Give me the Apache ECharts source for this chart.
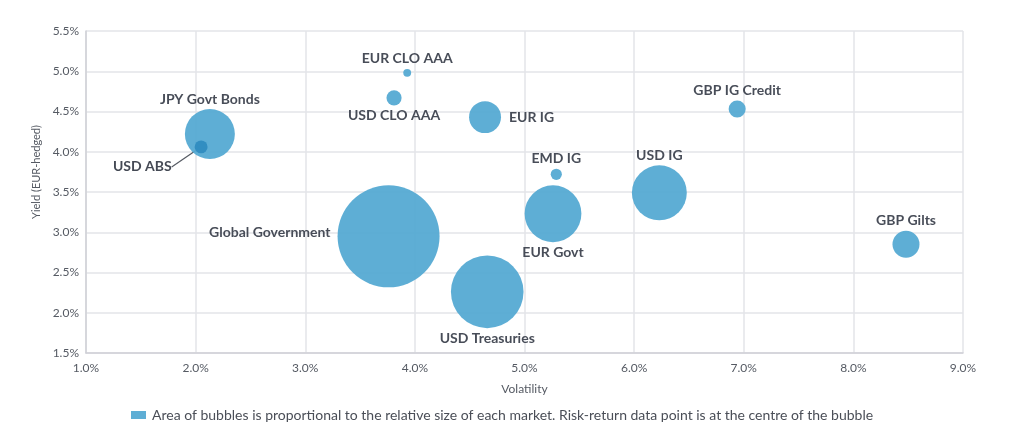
<!DOCTYPE html>
<html>
<head>
<meta charset="utf-8">
<script src="https://cdn.jsdelivr.net/npm/echarts@6/dist/echarts.min.js"></script>
<style>
html,body{margin:0;padding:0;background:#fff;}
#chart{width:1024px;height:430px;}
</style>
</head>
<body>
<div id="chart"></div>
<script>
// ---- data ----
const names = ['Global Government','USD Treasuries','EUR Govt','USD IG','JPY Govt Bonds','EUR IG','GBP Gilts','GBP IG Credit','USD CLO AAA','EMD IG','EUR CLO AAA'];
const volatility = [3.76, 4.66, 5.26, 6.23, 2.13, 4.64, 8.48, 6.94, 3.81, 5.29, 3.93];
const yields = [2.95, 2.26, 3.23, 3.49, 4.22, 4.43, 2.85, 4.53, 4.67, 3.72, 4.98];
const marketSize = [100, 50.7, 31, 29, 24, 9.8, 7, 2.8, 2.2, 1.2, 0.6];
const absName = 'USD ABS';
const absVolatility = 2.05;
const absYield = 4.06;
const absSize = 1.6;
const xTicks = [1, 2, 3, 4, 5, 6, 7, 8, 9];
const yTicks = [1.5, 2.0, 2.5, 3.0, 3.5, 4.0, 4.5, 5.0, 5.5];
const legendText = 'Area of bubbles is proportional to the relative size of each market. Risk-return data point is at the centre of the bubble';

// ---- presentation ----
const labelPosition = {
  'Global Government': 'left',
  'USD Treasuries': 'bottom',
  'EUR Govt': 'bottom',
  'USD IG': 'top',
  'JPY Govt Bonds': 'top',
  'EUR IG': 'right',
  'GBP Gilts': 'top',
  'GBP IG Credit': 'top',
  'USD CLO AAA': 'bottom',
  'EMD IG': 'top',
  'EUR CLO AAA': 'top'
};
const labelDistance = { 'Global Government': 7, 'EUR IG': 8 };
const labelShift = { 'Global Government': [0, -4] };
const font = 'Lato, "DejaVu Sans", sans-serif';
const labelColor = '#3a3f4b';
const maxDiameter = 102;
const sizeToDiameter = v => maxDiameter * Math.sqrt(v / 100);

const mainData = names.map((n, i) => ({
  name: n,
  value: [volatility[i], yields[i], marketSize[i]],
  label: {
    position: labelPosition[n],
    distance: labelDistance[n] !== undefined ? labelDistance[n] : 3,
    offset: labelShift[n] || [0, 0]
  }
}));

const chart = echarts.init(document.getElementById('chart'), null, { renderer: 'canvas' });
chart.setOption({
  animation: false,
  backgroundColor: '#ffffff',
  grid: { left: 86, right: 61, top: 31, bottom: 77 },
  legend: {
    data: [{ name: legendText, icon: 'rect' }],
    left: 131, top: 408, padding: 0,
    itemWidth: 15, itemHeight: 8, itemGap: 6,
    textStyle: { fontFamily: font, fontSize: 14, color: '#4a4e57', padding: [0, 0, 0, 1] }
  },
  xAxis: {
    type: 'value', min: xTicks[0], max: xTicks[xTicks.length - 1], interval: 1,
    name: 'Volatility', nameLocation: 'middle', nameGap: 30,
    nameTextStyle: { fontFamily: font, fontSize: 12, color: '#555a63' },
    axisLine: { show: true, lineStyle: { color: '#cfd0d6', width: 1.5 } },
    axisTick: { show: false },
    axisLabel: { formatter: v => v.toFixed(1) + '%', fontFamily: font, fontSize: 12, color: '#555a63', margin: 9 },
    splitLine: { show: true, lineStyle: { color: '#e3e4e9', width: 1.5 } }
  },
  yAxis: {
    type: 'value', min: yTicks[0], max: yTicks[yTicks.length - 1], interval: 0.5,
    name: 'Yield (EUR-hedged)', nameLocation: 'middle', nameGap: 42, nameRotate: 90,
    nameTextStyle: { fontFamily: font, fontSize: 11, color: '#555a63', padding: [0, 0, 0, 40] },
    axisLine: { show: true, lineStyle: { color: '#cfd0d6', width: 1.5 } },
    axisTick: { show: false },
    axisLabel: { formatter: v => v.toFixed(1) + '%', fontFamily: font, fontSize: 12, color: '#555a63', margin: 7 },
    splitLine: { show: true, lineStyle: { color: '#e3e4e9', width: 1.5 } }
  },
  series: [
    {
      name: legendText,
      type: 'scatter',
      data: mainData,
      symbolSize: v => sizeToDiameter(v[2]),
      itemStyle: { color: '#52a8d2', opacity: 0.93 },
      label: {
        show: true, formatter: p => p.name,
        fontFamily: font, fontSize: 14, fontWeight: 'bold', color: labelColor
      },
      emphasis: { disabled: true }
    },
    {
      name: absName,
      type: 'scatter',
      data: [{ name: absName, value: [absVolatility, absYield, absSize] }],
      symbolSize: v => sizeToDiameter(v[2]),
      itemStyle: { color: '#2f8cc0', opacity: 0.95 },
      label: {
        show: true, position: 'left', formatter: p => p.name, distance: 5,
        fontFamily: font, fontSize: 14, fontWeight: 'bold', color: labelColor
      },
      labelLayout: { dx: -18, dy: 20 },
      labelLine: { show: true, lineStyle: { color: '#555a63', width: 1.2 } },
      emphasis: { disabled: true }
    }
  ]
});
</script>
</body>
</html>
